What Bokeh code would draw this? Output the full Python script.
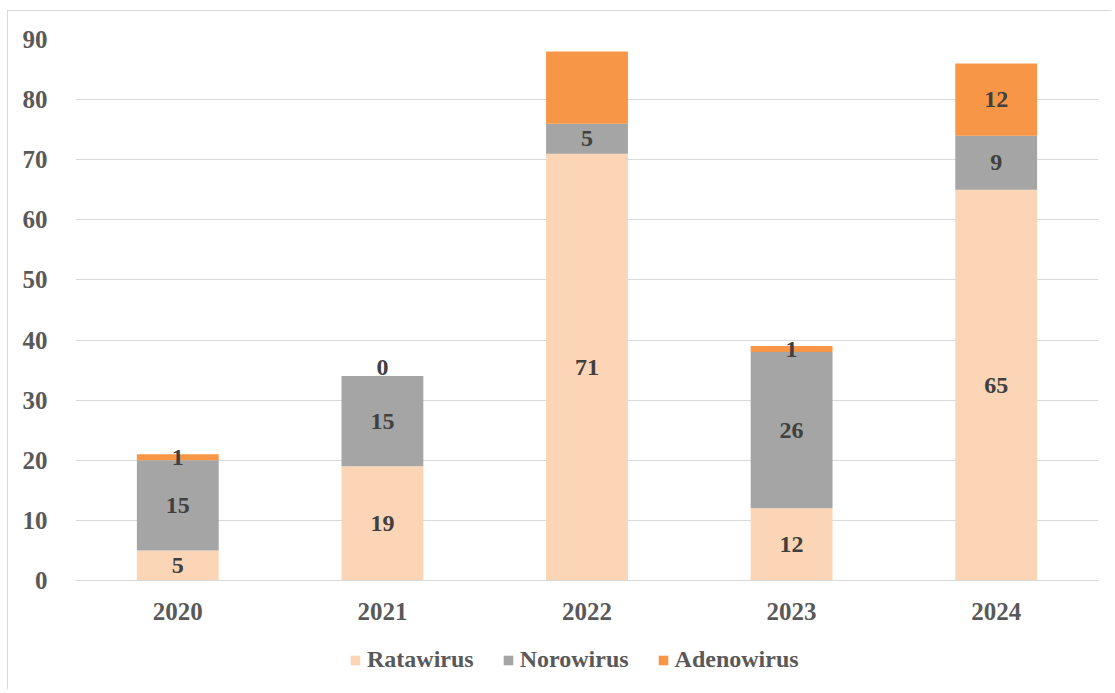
import numpy as np
from bokeh.plotting import figure
from bokeh.layouts import column
from bokeh.models import ColumnDataSource, FactorRange, Range1d, Legend, LegendItem
from bokeh.core.properties import value
from bokeh.embed import file_html
from bokeh.resources import INLINE

years = ["2020", "2021", "2022", "2023", "2024"]
series = ["Ratawirus", "Norowirus", "Adenowirus"]
ratawirus = [5, 19, 71, 12, 65]
norowirus = [15, 15, 5, 26, 9]
adenowirus = [1, 0, 12, 1, 12]
# which segment labels are shown in the reference
show_adeno_label = [True, True, False, True, True]
colors = ["#FBD5B5", "#A5A5A5", "#F79646"]
y_ticks = [0, 10, 20, 30, 40, 50, 60, 70, 80, 90]

FONT = "Liberation Serif"
BORDER = {"border-left": "1px solid #d9d9d9"}

data = {"years": years, "Ratawirus": ratawirus, "Norowirus": norowirus, "Adenowirus": adenowirus}
src = ColumnDataSource(data)

p = figure(x_range=FactorRange(*years), y_range=Range1d(0, 90),
           frame_width=1022, frame_height=540, output_backend="svg", toolbar_location=None,
           min_border_left=67, min_border_right=14, min_border_top=28, min_border_bottom=50)
p.margin = (10, 0, 0, 7)
p.styles = {"border-top": "1px solid #d9d9d9", **BORDER}
p.outline_line_color = None

renderers = p.vbar_stack(series, x="years", width=0.4, source=src,
                         fill_color=colors, line_color=None)

# segment labels
vals = np.array([ratawirus, norowirus, adenowirus], dtype=float)
cum = np.cumsum(vals, axis=0)
mx, my, mt, zx, zy, zt = [], [], [], [], [], []
for i, s in enumerate(series):
    for j, yr in enumerate(years):
        if i == 2 and not show_adeno_label[j]:
            continue
        v = vals[i, j]
        if v == 0:
            zx.append(yr); zy.append(cum[i, j]); zt.append(str(int(v)))
        else:
            mx.append(yr); my.append(cum[i, j] - v / 2); mt.append(str(int(v)))
lbl = dict(text_align="center", text_font=value(FONT), text_font_style="bold",
           text_font_size="24px", text_color="#404040")
p.text(x="x", y="y", text="t", source=ColumnDataSource(dict(x=mx, y=my, t=mt)),
       text_baseline="middle", **lbl)
p.text(x="x", y="y", text="t", source=ColumnDataSource(dict(x=zx, y=zy, t=zt)),
       text_baseline="bottom", y_offset=-1, **lbl)

p.ygrid.grid_line_color = "#d9d9d9"
p.ygrid.grid_line_width = 1
p.xgrid.grid_line_color = None
p.yaxis.ticker = y_ticks
p.yaxis.axis_line_color = None
p.yaxis.major_tick_line_color = None
p.yaxis.minor_tick_line_color = None
p.yaxis.major_label_standoff = 22
p.xaxis.axis_line_color = "#d9d9d9"
p.xaxis.major_tick_line_color = None
p.xaxis.minor_tick_line_color = None
p.xaxis.major_label_standoff = 16
for ax in (p.xaxis, p.yaxis):
    ax.major_label_text_font = FONT
    ax.major_label_text_font_style = "bold"
    ax.major_label_text_font_size = "25px"
    ax.major_label_text_color = "#595959"

# legend strip below the chart (proxy glyphs lie outside its visible range)
lg = figure(x_range=Range1d(0, 1), y_range=Range1d(0, 1), x_axis_type=None, y_axis_type=None,
            frame_width=1022, frame_height=60, output_backend="svg", toolbar_location=None,
            min_border_left=67, min_border_right=14, min_border_top=0, min_border_bottom=0)
lg.margin = (0, 0, 0, 7)
lg.styles = dict(BORDER)
lg.outline_line_color = None
lg.xgrid.visible = False
lg.ygrid.visible = False
dummies = [lg.vbar(x=[-5], bottom=[-6], top=[-5], width=0.4, fill_color=c, line_color=None)
           for c in colors]
legend = Legend(items=[LegendItem(label=s, renderers=[r]) for s, r in zip(series, dummies)],
                orientation="horizontal", location=(274, 16),
                label_text_font=FONT, label_text_font_style="bold", label_text_font_size="24px",
                label_text_color="#595959", glyph_width=12, glyph_height=12,
                spacing=28, label_standoff=6, border_line_color=None, background_fill_alpha=0,
                margin=0, padding=0)
lg.add_layout(legend, "center")

layout = column(p, lg, spacing=0)
open("out.html", "w").write(file_html(layout, INLINE))
